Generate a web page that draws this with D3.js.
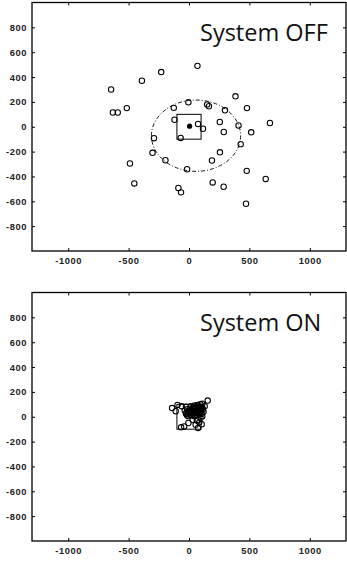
<!DOCTYPE html>
<html>
<head>
<meta charset="utf-8">
<script src="https://cdn.jsdelivr.net/npm/d3@7"></script>
<style>
  body { margin: 0; background: #fff; }
  .tick text { font-family: "Liberation Sans", Arial, sans-serif; font-weight: bold; font-size: 9.3px; letter-spacing: 0.6px; fill: #222; }
  .tick line { stroke: #000; }
</style>
</head>
<body>
<svg id="chart" width="347" height="561"></svg>
<script>
'use strict';

// Data
const xTicks = [-1000, -500, 0, 500, 1000];
const yTicks = [-800, -600, -400, -200, 0, 200, 400, 600, 800];
const titles = ['System OFF', 'System ON'];

const offPoints = [
    [70, 490], [-230, 440], [-390, 370], [-645, 300], [-630, 115], [-590, 115],
    [-515, 150], [385, 245], [480, 150], [670, 30], [515, -45], [410, 10],
    [428, -140], [478, -355], [635, -420], [472, -620], [287, -483], [196, -448],
    [-66, -528], [-88, -493], [-453, -456], [-489, -296], [-195, -270], [-302, -210],
    [-290, -92], [-16, -342], [190, -272], [256, -206], [288, -42], [255, 38],
    [298, 132], [150, 180], [165, 165], [-5, 197], [-126, 152], [-120, 56],
    [-69, -90], [75, 22], [116, -16]
];
const offMean = [[5, 5]];
const offEllipse = [{cx: 58, cy: -72, rx: 369, ry: 287}];

const onPoints = [
    [-140, 70], [-95, 95], [-110, 45], [-60, 85], [-25, 80], [15, 85], [45, 90],
    [70, 95], [95, 100], [110, 105], [155, 130], [130, 85],
    [-35, 50], [-20, 35], [-10, 20], [0, 45], [5, 30], [15, 15], [20, 55], [25, 35],
    [35, 20], [40, 60], [50, 45], [55, 75], [60, 30], [70, 55], [75, 80], [80, 40],
    [90, 65], [95, 45], [100, 80], [105, 25], [115, 60], [120, 40], [-15, 60],
    [10, 65], [30, 70], [65, 15], [85, 20], [45, 5], [-5, 5], [110, 5],
    [-25, 25], [-5, 40], [10, 50], [25, 10], [-15, 10], [85, 75], [100, 55],
    [75, 60], [60, 50], [110, 70], [90, 30],
    [95, -10], [65, -30], [85, -45], [75, -90], [-40, -78], [-65, -85], [-5, -50],
    [30, -25], [105, -60], [55, -65]
];
const onMean = [[40, 30]];
const onEllipse = [];

const targetBox = [-100, 100];   // square limits, both axes
const xDomain = [-1300, 1300],
      yDomain = [-1000, 1000];


const svg = d3.select('#chart');

function drawPanel(top, title, points, mean, ellipses) {

    const left = 32, width = 314, height = 248.5;

    const x = d3.scaleLinear().domain(xDomain).range([0, width]),
          y = d3.scaleLinear().domain(yDomain).range([height, 0]);

    const fmt = d => String(d);

    const g = svg.append('g').attr('transform', `translate(${left},${top})`);

    // axes, ticks pointing inward
    g.append('g')
        .attr('transform', `translate(0,${height})`)
        .call(d3.axisBottom(x).tickValues(xTicks).tickFormat(fmt).tickSize(-3).tickSizeOuter(0).tickPadding(6))
        .call(a => a.select('.domain').remove());
    g.append('g')
        .call(d3.axisTop(x).tickValues(xTicks).tickSize(-3).tickSizeOuter(0).tickFormat(''))
        .call(a => a.select('.domain').remove());
    g.append('g')
        .call(d3.axisLeft(y).tickValues(yTicks).tickFormat(fmt).tickSize(-3).tickSizeOuter(0).tickPadding(5))
        .call(a => a.select('.domain').remove());
    g.append('g')
        .attr('transform', `translate(${width},0)`)
        .call(d3.axisRight(y).tickValues(yTicks).tickSize(-3).tickSizeOuter(0).tickFormat(''))
        .call(a => a.select('.domain').remove());

    g.append('rect')
        .attr('width', width)
        .attr('height', height)
        .attr('fill', 'none')
        .attr('stroke', '#000')
        .attr('stroke-width', 1.3);

    // target square
    g.append('rect')
        .attr('x', x(targetBox[0]))
        .attr('y', y(targetBox[1]))
        .attr('width', x(targetBox[1]) - x(targetBox[0]))
        .attr('height', y(targetBox[0]) - y(targetBox[1]))
        .attr('fill', 'none')
        .attr('stroke', '#000')
        .attr('stroke-width', 1);

    g.selectAll('ellipse')
        .data(ellipses)
        .enter()
        .append('ellipse')
        .attr('cx', d => x(d.cx))
        .attr('cy', d => y(d.cy))
        .attr('rx', d => x(d.cx + d.rx) - x(d.cx))
        .attr('ry', d => y(d.cy) - y(d.cy + d.ry))
        .attr('fill', 'none')
        .attr('stroke', '#000')
        .attr('stroke-width', 0.9)
        .attr('stroke-dasharray', '4,2,1,2');

    g.selectAll('circle.pt')
        .data(points)
        .enter()
        .append('circle')
        .attr('class', 'pt')
        .attr('cx', d => x(d[0]))
        .attr('cy', d => y(d[1]))
        .attr('r', 2.7)
        .attr('fill', 'none')
        .attr('stroke', '#000')
        .attr('stroke-width', 1.05);

    g.selectAll('circle.mean')
        .data(mean)
        .enter()
        .append('circle')
        .attr('class', 'mean')
        .attr('cx', d => x(d[0]))
        .attr('cy', d => y(d[1]))
        .attr('r', 2.6)
        .attr('fill', '#000');

    g.append('text')
        .attr('x', 168)
        .attr('y', 38)
        .attr('font-family', '"Open Sans", sans-serif')
        .attr('font-size', '23.5px')
        .attr('fill', '#111')
        .text(title);
}

function main() {
    drawPanel(2.5, titles[0], offPoints, offMean, offEllipse);
    drawPanel(292.5, titles[1], onPoints, onMean, onEllipse);
}

main();
</script>
</body>
</html>
